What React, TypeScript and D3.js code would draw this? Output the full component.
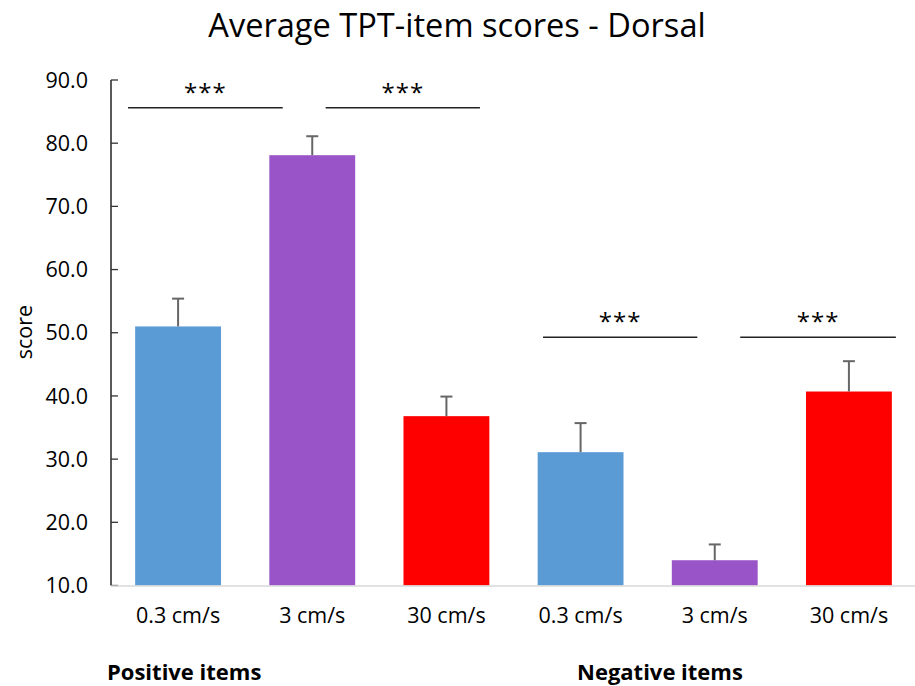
import React from "react";
import * as d3 from "d3";

const categories = ["0.3 cm/s", "3 cm/s", "30 cm/s", "0.3 cm/s ", "3 cm/s ", "30 cm/s "];
const labels = ["0.3 cm/s", "3 cm/s", "30 cm/s", "0.3 cm/s", "3 cm/s", "30 cm/s"];
const values = [51.0, 78.1, 36.8, 31.1, 14.0, 40.7];
const errors = [4.4, 3.0, 3.1, 4.6, 2.5, 4.8];
const colors = ["#5b9bd5", "#9955c8", "#ff0000", "#5b9bd5", "#9955c8", "#ff0000"];
const yTicks = [10, 20, 30, 40, 50, 60, 70, 80, 90];
// significance brackets: start / end in category-index units, level in score units
const sigStart = [0.127, 1.6, 3.22, 4.69];
const sigEnd = [1.28, 2.75, 4.37, 5.85];
const sigLevel = [85.6, 85.6, 49.3, 49.3];
const groupLabels = ["Positive items", "Negative items"];

const W = 915;
const H = 686;
const left = 111;
const right = 916;
const top = 80;
const bottom = 585.5;
const font = "'Open Sans', 'Liberation Sans', sans-serif";

export default function App() {
  const x = d3.scaleBand<string>().domain(categories).range([left, right]).paddingInner(0.36).paddingOuter(0.18);
  const xi = d3.scaleLinear().domain([0, categories.length]).range([left, right]);
  const y = d3.scaleLinear().domain([10, 90]).range([bottom, top]);
  const bw = x.bandwidth();

  return (
    <svg width={W} height={H} style={{ position: "absolute", left: 0, top: 0, background: "#fff" }}>
      <text x={457} y={37} textAnchor="middle" fontFamily={font} fontSize={32.6} fill="#000">
        Average TPT-item scores - Dorsal
      </text>
      {/* y axis */}
      <line x1={left} x2={left} y1={top} y2={bottom} stroke="#000" strokeWidth={1.3} />
      {yTicks.map((t) => (
        <g key={t}>
          <line x1={left} x2={left + 7} y1={y(t)} y2={y(t)} stroke="#333" strokeWidth={1.3} />
          <text x={88} y={y(t)} dy="0.36em" textAnchor="end" fontFamily={font} fontSize={21.5} fill="#000">
            {t.toFixed(1)}
          </text>
        </g>
      ))}
      <text
        transform={`translate(32,332) rotate(-90)`}
        textAnchor="middle"
        fontFamily={font}
        fontSize={21.5}
        fill="#000"
      >
        score
      </text>
      {/* bars */}
      {categories.map((c, i) => (
        <rect key={c} x={x(c)} y={y(values[i])} width={bw} height={bottom - y(values[i])} fill={colors[i]} />
      ))}
      {/* x axis line */}
      <line x1={left} x2={W} y1={bottom + 0.5} y2={bottom + 0.5} stroke="#d9d9d9" strokeWidth={1.5} />
      {/* error bars */}
      {categories.map((c, i) => {
        const cx = (x(c) as number) + bw / 2;
        const y0 = y(values[i]);
        const y1 = y(values[i] + errors[i]);
        return (
          <g key={"e" + c} stroke="#666" strokeWidth={2}>
            <line x1={cx} x2={cx} y1={y0} y2={y1} />
            <line x1={cx - 6} x2={cx + 6} y1={y1} y2={y1} />
          </g>
        );
      })}
      {/* category labels */}
      {categories.map((c, i) => (
        <text
          key={"l" + c}
          x={(x(c) as number) + bw / 2}
          y={623}
          textAnchor="middle"
          fontFamily={font}
          fontSize={21.5}
          fill="#000"
        >
          {labels[i]}
        </text>
      ))}
      {/* significance */}
      {sigStart.map((s, i) => {
        const x1 = xi(s);
        const x2 = xi(sigEnd[i]);
        const yy = y(sigLevel[i]);
        return (
          <g key={"s" + i}>
            <line x1={x1} x2={x2} y1={yy} y2={yy} stroke="#222" strokeWidth={1.5} />
            <text
              x={(x1 + x2) / 2}
              y={yy - 7}
              textAnchor="middle"
              fontFamily={font}
              fontSize={24}
              letterSpacing={1}
              fill="#000"
            >
              ***
            </text>
          </g>
        );
      })}
      {/* group labels */}
      <text x={107} y={680} fontFamily={font} fontWeight="bold" fontSize={22} fill="#000">
        {groupLabels[0]}
      </text>
      <text x={577} y={680} fontFamily={font} fontWeight="bold" fontSize={22} fill="#000">
        {groupLabels[1]}
      </text>
    </svg>
  );
}
